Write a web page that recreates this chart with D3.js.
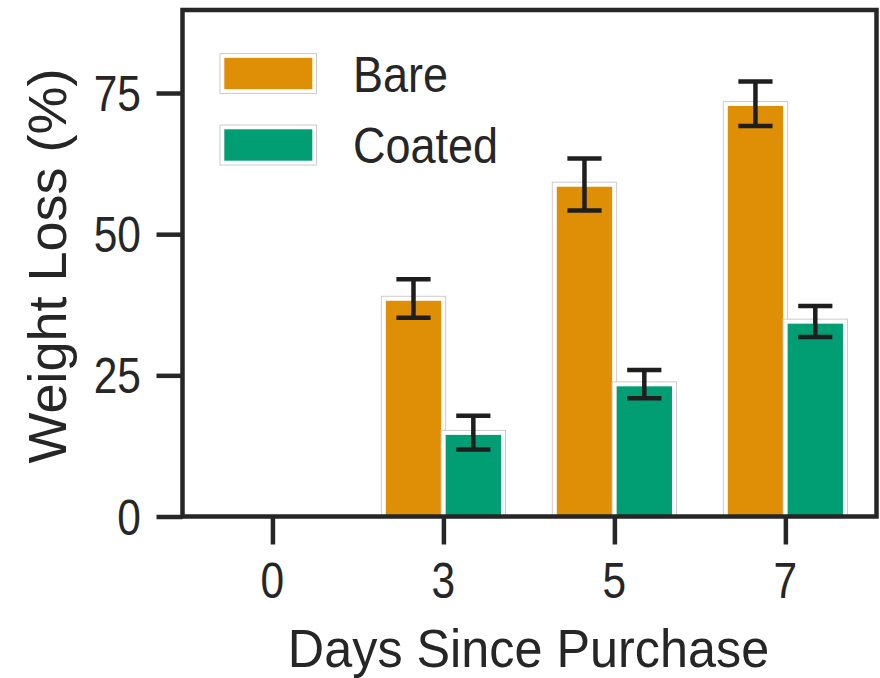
<!DOCTYPE html>
<html>
<head>
<meta charset="utf-8">
<script src="https://cdn.jsdelivr.net/npm/d3@7"></script>
<style>
  html, body { margin: 0; padding: 0; background: #ffffff; }
  svg { display: block; }
  text { font-family: "Liberation Sans", Arial, sans-serif; fill: #262626; }
</style>
</head>
<body>
<svg id="chart" width="880" height="678"></svg>
<script>
// ---------------- data ----------------
const days = ["0", "3", "5", "7"];
const seriesNames = ["Bare", "Coated"];
const bareMean = [0, 38.6, 58.8, 73.1];
const bareErr = [0, 3.4, 4.6, 3.95];
const coatedMean = [0, 14.85, 23.45, 34.55];
const coatedErr = [0, 3.0, 2.5, 2.75];
const yTicks = [0, 25, 50, 75];
const colors = ["#de8f05", "#029e73"];

// ---------------- layout ----------------
const plotL = 182.5, plotR = 876.5, plotT = 10, plotB = 516.5;
const svg = d3.select("#chart");

const x = d3.scaleLinear().domain([-0.526, 3.533]).range([plotL, plotR]);
const y = d3.scaleLinear().domain([0, 89.7]).range([plotB, plotT]);

const barW = 0.35;      // data units per bar
const edge = 2.25;      // half of white edge width
const axisColor = "#262626";

const series = [
  { name: seriesNames[0], mean: bareMean, err: bareErr, color: colors[0], offset: -barW },
  { name: seriesNames[1], mean: coatedMean, err: coatedErr, color: colors[1], offset: 0 }
];

svg.append("defs").append("clipPath").attr("id", "clip")
  .append("rect").attr("x", plotL).attr("y", plotT).attr("width", plotR - plotL).attr("height", plotB - plotT);
const plot = svg.append("g").attr("clip-path", "url(#clip)");

days.forEach((d, i) => {
  series.forEach(s => {
    const v = s.mean[i];
    if (v <= 0) return;
    const x0 = x(i + s.offset), x1 = x(i + s.offset + barW);
    const yt = y(v);
    plot.append("rect")
      .attr("x", x0 - edge).attr("y", yt - edge)
      .attr("width", x1 - x0 + 2 * edge).attr("height", plotB - yt + 2 * edge)
      .attr("fill", "#ffffff").attr("stroke", "#cccccc").attr("stroke-width", 1);
    plot.append("rect")
      .attr("x", x0 + edge).attr("y", yt + edge)
      .attr("width", x1 - x0 - 2 * edge).attr("height", plotB - yt)
      .attr("fill", s.color);
  });
});

// error bars
const capHalf = 0.1;
days.forEach((d, i) => {
  series.forEach(s => {
    const v = s.mean[i], e = s.err[i];
    if (e <= 0) return;
    const c = i + s.offset + barW / 2;
    const g = svg.append("g").attr("stroke", "#1e1e1e").attr("stroke-width", 4.5);
    g.append("line").attr("x1", x(c)).attr("x2", x(c)).attr("y1", y(v - e)).attr("y2", y(v + e));
    [v - e, v + e].forEach(val => {
      g.append("line")
        .attr("x1", x(c - capHalf)).attr("x2", x(c + capHalf))
        .attr("y1", y(val)).attr("y2", y(val));
    });
  });
});

// frame (spines)
svg.append("rect")
  .attr("x", plotL).attr("y", plotT).attr("width", plotR - plotL).attr("height", plotB - plotT)
  .attr("fill", "none").attr("stroke", axisColor).attr("stroke-width", 4.5);

function label(t, tx, ty, size, sx, anchor, parent) {
  return (parent || svg).append("text")
    .attr("transform", `translate(${tx},${ty}) scale(${sx},1)`)
    .attr("text-anchor", anchor)
    .style("font-size", size + "px")
    .text(t);
}

// y axis
const yAxis = svg.append("g").attr("transform", `translate(${plotL},0)`)
  .call(d3.axisLeft(y).tickValues(yTicks).tickSize(26).tickFormat(""));
yAxis.select(".domain").remove();
yAxis.selectAll(".tick line").attr("stroke", axisColor).attr("stroke-width", 4.5);
yTicks.forEach(t => label(String(t), 141, y(t) + 18, 50, 0.85, "end"));

// x axis
const xAxis = svg.append("g").attr("transform", `translate(0,${plotB})`)
  .call(d3.axisBottom(x).tickValues(d3.range(days.length)).tickSize(28).tickFormat(""));
xAxis.select(".domain").remove();
xAxis.selectAll(".tick line").attr("stroke", axisColor).attr("stroke-width", 4.5);
days.forEach((d, i) => label(d, x(i), 598, 50, 0.85, "middle"));

// axis titles
label("Days Since Purchase", (plotL + plotR) / 2 - 1, 667, 53, 0.95, "middle");
svg.append("text")
  .attr("transform", `translate(66,266) rotate(-90)`)
  .attr("text-anchor", "middle")
  .style("font-size", "54px")
  .text("Weight Loss (%)");

// legend
const legend = svg.append("g");
series.forEach((s, k) => {
  const ly = 53.5 + k * 71.5;
  legend.append("rect").attr("x", 220).attr("y", ly).attr("width", 96.5).attr("height", 40)
    .attr("fill", "#ffffff").attr("stroke", "#cccccc").attr("stroke-width", 1);
  legend.append("rect").attr("x", 224.3).attr("y", ly + 4.3).attr("width", 88).attr("height", 31.4)
    .attr("fill", s.color);
  label(s.name, 353, ly + 38, 50, 0.9, "start", legend);
});
</script>
</body>
</html>
